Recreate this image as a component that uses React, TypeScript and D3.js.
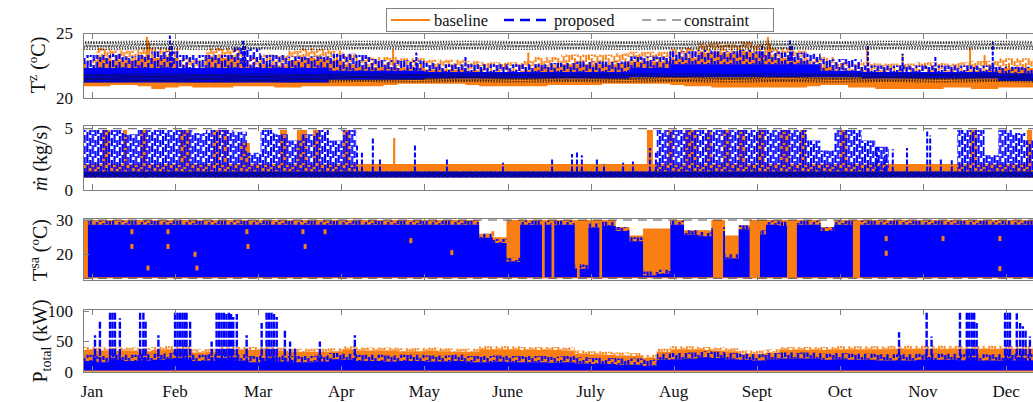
import React, { useEffect, useRef } from 'react';
import * as d3 from 'd3';

const W = 1033;
const H = 402;
const DAYS = 365;
const BIN = 5; // every envelope value below covers 5 days
const ORANGE = '#fa7f12';
const BLUE = '#0000ff';
const AXIS = '#808080';
const FONT = "'Liberation Serif', 'Times New Roman', serif";

const monthLabels = ['Jan', 'Feb', 'Mar', 'Apr', 'May', 'June', 'July', 'Aug', 'Sept', 'Oct', 'Nov', 'Dec'];
const monthTickDays = monthLabels.map((_, i) => 3.3 + (i * DAYS) / 12);

// ---- zone temperature T^z (°C), 5-day envelopes ----
const tzBaseLo = [
  20.9, 20.9, 21.0, 21.0, 20.9, 20.7, 20.8, 20.9, 20.8, 20.8,
  20.8, 20.9, 20.9, 20.9, 20.8, 20.8, 20.9, 20.9, 20.9, 20.9,
  20.9, 20.9, 21.0, 21.1, 21.1, 21.1, 21.1, 21.1, 21.0, 20.9,
  20.9, 20.9, 20.9, 20.9, 21.0, 21.0, 21.0, 21.0, 21.1, 21.1,
  21.1, 21.1, 21.1, 21.0, 20.9, 20.9, 20.8, 20.8, 20.8, 20.8,
  20.8, 20.8, 20.8, 20.9, 21.0, 21.0, 20.8, 20.8, 20.7, 20.7,
  20.7, 20.7, 20.7, 20.8, 20.8, 20.7, 20.7, 20.8, 20.8, 20.8,
  20.8, 20.8, 20.8,
];
const tzBaseHi = [
  22.7, 23.6, 23.4, 23.4, 23.6, 23.6, 23.6, 22.8, 22.7, 23.6,
  23.6, 23.5, 22.9, 23.1, 23.0, 23.4, 23.6, 23.5, 23.4, 23.1,
  22.9, 22.9, 22.9, 22.8, 22.8, 22.7, 22.7, 22.7, 22.6, 22.5,
  22.5, 22.5, 22.6, 22.9, 22.9, 23.1, 23.1, 23.1, 23.1, 23.2,
  23.3, 23.3, 23.3, 23.5, 23.6, 24.0, 24.0, 23.9, 24.1, 23.9,
  23.6, 23.6, 23.4, 22.8, 22.9, 22.5, 22.4, 22.5, 22.4, 22.4,
  22.4, 22.5, 22.5, 22.4, 22.5, 22.6, 22.6, 22.8, 22.8, 22.8,
  22.8, 22.8, 22.8,
];
const tzPropLo = [
  21.2, 21.2, 21.2, 21.2, 21.2, 21.2, 21.2, 21.2, 21.2, 21.2,
  21.2, 21.2, 21.2, 21.2, 21.2, 21.2, 21.2, 21.2, 21.4, 21.4,
  21.4, 21.4, 21.4, 21.4, 21.4, 21.5, 21.5, 21.5, 21.5, 21.5,
  21.5, 21.5, 21.5, 21.5, 21.5, 21.5, 21.5, 21.5, 21.5, 21.5,
  21.6, 21.6, 21.6, 21.6, 21.6, 21.6, 21.6, 21.6, 21.6, 21.6,
  21.6, 21.6, 21.6, 21.6, 21.6, 21.6, 21.6, 21.5, 21.5, 21.5,
  21.5, 21.5, 21.5, 21.5, 21.5, 21.5, 21.5, 21.3, 21.3, 21.3,
  21.3, 21.3, 21.3,
];
const tzPropCore = [
  22.3, 22.3, 22.3, 22.3, 22.3, 22.3, 22.3, 22.3, 22.3, 22.3,
  22.3, 22.3, 22.3, 22.3, 22.3, 22.3, 22.3, 22.3, 22.1, 22.1,
  22.1, 22.1, 22.1, 22.1, 22.1, 22.0, 22.0, 22.0, 22.0, 22.0,
  22.0, 22.0, 22.0, 22.0, 22.0, 22.0, 22.0, 22.0, 22.0, 22.0,
  22.3, 22.3, 22.3, 22.6, 22.6, 22.6, 22.6, 22.6, 22.6, 22.6,
  22.6, 22.6, 22.6, 22.6, 22.1, 22.1, 22.1, 22.0, 22.0, 22.0,
  22.0, 22.0, 22.0, 22.0, 22.0, 22.0, 22.0, 21.9, 21.9, 21.9,
  21.9, 21.9, 21.9,
];
const tzPropHi = [
  23.3, 23.3, 23.4, 23.2, 23.3, 23.6, 23.6, 23.3, 23.3, 23.3,
  23.3, 23.9, 23.8, 23.3, 23.3, 23.2, 23.2, 23.2, 23.4, 23.4,
  23.3, 23.0, 22.9, 22.9, 22.9, 22.7, 22.6, 22.6, 22.6, 22.6,
  22.6, 22.6, 22.6, 22.6, 22.7, 22.7, 22.8, 22.8, 22.8, 22.8,
  23.2, 23.2, 23.2, 23.6, 23.6, 23.7, 23.6, 23.6, 23.7, 23.6,
  23.6, 23.5, 23.5, 23.4, 23.0, 23.0, 23.0, 22.5, 22.5, 22.5,
  22.5, 22.5, 22.5, 22.5, 22.5, 22.5, 22.5, 22.4, 22.4, 22.4,
  22.4, 22.4, 22.4,
];
const tzBaseSpikes = [
  [23.4, 24.7], [24.2, 24.3], [113.5, 23.7], [163.0, 23.5], [250.7, 24.7],
  [251.5, 24.2], [287.0, 23.8], [300.0, 23.4], [324.7, 23.9], [330.0, 23.3],
];
const tzPropSpikes = [
  [31.8, 24.8], [32.6, 24.2], [58.6, 24.4], [59.4, 24.0], [122.0, 23.5], [140.0, 23.2],
  [215.0, 23.7], [248.5, 24.1], [258.8, 24.5], [259.6, 24.0], [287.3, 24.1], [300.0, 23.4],
  [312.0, 23.2], [333.0, 24.3],
];
const tzUpperProfile = [24.4, 23.7]; // daily constraint, unoccupied / occupied
const tzLowerProfile = [21.9, 21.2];

// ---- supply air flow (kg/s) ----
const mdotBaseBand = [1.0, 2.1];
const mdotPropBand = [1.0, 1.5];
const mdotPropHi = [
  4.85, 4.85, 4.85, 4.5, 4.85, 4.85, 4.85, 4.85, 4.6, 4.85,
  4.85, 4.7, 3.0, 4.85, 4.5, 4.0, 4.5, 4.85, 4.0, 4.85,
  1.5, 1.5, 1.5, 1.5, 1.5, 1.5, 1.5, 1.5, 1.5, 1.5,
  1.5, 1.5, 1.5, 1.5, 1.5, 1.5, 1.5, 1.5, 1.5, 1.5,
  1.5, 1.5, 4.85, 4.85, 4.85, 4.85, 4.85, 4.85, 4.85, 4.85,
  4.85, 4.85, 4.85, 4.0, 3.2, 4.85, 4.85, 4.0, 3.5, 1.5,
  1.5, 1.5, 1.5, 1.5, 4.85, 4.85, 2.8, 4.85, 4.6, 4.0,
  4.0, 4.0, 4.0,
];
const mdotPropSpikes = [
  [100.3, 3.6], [102.1, 3.0], [106.1, 4.2], [108.7, 2.6], [121.5, 3.7], [133.2, 2.6],
  [153.7, 2.2], [171.7, 2.5], [179.0, 2.9], [180.8, 3.1], [182.6, 2.8], [188.1, 2.6],
  [190.7, 2.1], [197.7, 2.2], [201.3, 2.3], [207.5, 3.4], [209.7, 3.0], [290.6, 3.5],
  [293.5, 2.8], [296.4, 3.3], [301.6, 3.4], [309.0, 4.85], [310.1, 4.4], [314.0, 2.6],
  [318.0, 2.4],
];
const mdotBaseBlocks = [
  [7.0, 9.9, 4.85], [14.6, 16.1, 4.85], [20.9, 23.4, 4.85], [35.5, 39.2, 4.85],
  [47.6, 50.1, 4.85], [51.2, 52.7, 4.85], [57.5, 61.1, 3.8], [72.1, 74.7, 4.85],
  [78.3, 82.0, 4.85], [84.2, 86.8, 4.85], [95.2, 97.7, 4.85], [113.5, 114.3, 4.2],
  [206.4, 208.6, 4.85], [214.1, 216.0, 4.85], [220.3, 224.7, 4.85], [228.4, 230.2, 4.85],
  [234.3, 236.8, 4.85], [239.7, 242.3, 4.85], [246.7, 249.6, 4.85], [255.1, 258.8, 4.85],
  [262.4, 264.6, 4.85], [277.1, 279.6, 4.85], [324.7, 327.2, 4.85], [345.5, 347.4, 4.85],
];
const mdotMax = 4.95;
const mdotMinProfile = [1.5, 1.0];

// ---- supply air temperature T^sa (°C) ----
const tsaBaseLo = 13.0;
const tsaPropLo = 13.3;
const tsaBaseHi = [
  30, 30, 30, 30, 30, 30, 30, 30, 30, 30,
  30, 30, 30, 30, 30, 30, 30, 30, 30, 30,
  30, 30, 30, 30, 30, 30, 30, 30, 30, 26.0,
  25.0, 30, 30, 30, 30, 30, 30, 30, 30, 28.0,
  25.5, 27.5, 27.5, 30, 27.0, 27.0, 30, 25.5, 28.5, 30,
  30, 30, 30, 30, 28.0, 30, 30, 30, 30, 30,
  30, 30, 30, 30, 30, 30, 30, 30, 30, 30,
  30, 30, 30,
];
const tsaPropHi = [
  29.8, 29.8, 29.8, 29.8, 29.8, 29.8, 29.8, 29.8, 29.8, 29.8,
  29.8, 29.8, 29.8, 29.8, 29.8, 29.8, 29.8, 29.8, 29.8, 29.8,
  29.8, 29.8, 29.8, 29.8, 29.8, 29.8, 29.8, 29.8, 29.8, 26.0,
  24.5, 19.0, 29.8, 29.8, 29.8, 29.8, 17.0, 29.0, 29.5, 28.0,
  25.0, 15.0, 15.5, 29.8, 27.0, 26.5, 28.0, 20.0, 28.5, 27.0,
  29.8, 29.5, 29.8, 29.8, 28.0, 29.8, 29.8, 29.8, 29.8, 29.8,
  29.8, 29.8, 29.8, 29.8, 29.8, 29.8, 29.8, 29.8, 29.8, 29.8,
  29.8, 29.8, 29.8,
];
const tsaBaseColumns = [
  [0, 1.8], [168.0, 169.0], [171.5, 172.5], [180.8, 181.8], [189.0, 190.0],
  [230.6, 234.3], [244.0, 247.8], [257.7, 261.3], [281.8, 284.4],
];
const tsaBaseSpecks = [
  [17.9, 26.6], [17.9, 22.3], [23.8, 16.0], [31.1, 26.6], [31.1, 22.3], [41.0, 20.0],
  [41.7, 16.0], [60.0, 26.6], [60.4, 22.3], [80.5, 26.6], [81.3, 22.3], [88.6, 26.6],
  [120.0, 24.0], [135.0, 20.5], [150.0, 26.0], [294.0, 24.6], [294.0, 20.3],
  [314.8, 24.6], [335.6, 24.6], [335.6, 15.8],
];
const tsaLimits = [13, 30];

// ---- total power P_total (kW) ----
const pBaseLo = 0.3;
const pPropLo = 2.5;
const pBaseHi = [
  39, 38, 38, 38, 37, 39, 40, 41, 35, 36,
  39, 39, 39, 39, 38, 36, 36, 36, 37, 40,
  38, 38, 38, 37, 37, 38, 37, 36, 36, 40,
  40, 40, 39, 39, 39, 38, 33, 32, 31, 30,
  29, 26, 36, 40, 40, 39, 38, 37, 33, 33,
  35, 39, 39, 39, 39, 40, 40, 40, 40, 41,
  41, 41, 41, 41, 41, 41, 41, 41, 41, 41,
  41, 41, 41,
];
const pPropHi = [
  24, 22, 26, 24, 25, 26, 28, 27, 24, 25,
  26, 25, 22, 24, 23, 22, 22, 23, 27, 26,
  24, 24, 23, 24, 24, 23, 23, 24, 22, 22,
  23, 22, 22, 22, 21, 22, 20, 19, 19, 18,
  18, 16, 26, 27, 28, 30, 29, 27, 26, 25,
  27, 28, 28, 28, 26, 27, 26, 26, 25, 25,
  25, 26, 26, 26, 25, 25, 25, 25, 25, 25,
  25, 25, 25,
];
const pPropSpikes = [
  [4.4, 60], [6.2, 85], [9.9, 98], [10.8, 100], [11.7, 98], [13.5, 88], [20.9, 100],
  [22.1, 100], [22.9, 85], [27.6, 60], [33.7, 100], [34.6, 100], [35.5, 100], [36.4, 100],
  [37.2, 100], [37.9, 100], [39.2, 85], [47.1, 50], [48.9, 100], [49.8, 100], [50.7, 100],
  [51.6, 100], [52.5, 95], [53.4, 100], [54.2, 95], [55.0, 90], [56.3, 95], [59.9, 60],
  [65.4, 80], [67.2, 100], [68.1, 100], [69.0, 100], [69.9, 95], [70.9, 90], [73.9, 68],
  [75.8, 50], [77.6, 40], [86.7, 50], [99.5, 60],
  [298.7, 65], [308.8, 99], [310.6, 58], [321.0, 99], [323.5, 100], [324.4, 100],
  [325.3, 100], [326.2, 98], [327.1, 80], [337.5, 100], [338.4, 100], [339.3, 100],
  [341.8, 96], [343.0, 80], [344.0, 75], [345.0, 69], [346.6, 58],
];

const layout = [
  { top: 33, bottom: 98, domain: [20, 25], ticks: [20, 25] },
  { top: 125, bottom: 190, domain: [0, 5.25], ticks: [0, 5] },
  { top: 218, bottom: 280, domain: [12.5, 30.6], ticks: [20, 30] },
  { top: 309, bottom: 372, domain: [0, 103], ticks: [0, 50, 100] },
];

type Pt = { d: number; lo: number; hi: number };
type Val = number[] | number;

const pick = (v: Val, i: number) => (Array.isArray(v) ? v[i] : v);
const shift = (v: Val, by: number): Val => (Array.isArray(v) ? v.map(h => h + by) : v + by);

function envelope(lo: Val, hi: Val, n = 73): Pt[] {
  const pts = d3.range(n).map(i => ({ d: i * BIN, lo: pick(lo, i), hi: pick(hi, i) }));
  pts.push({ ...pts[pts.length - 1], d: DAYS });
  return pts;
}

export default function App() {
  const plotRef = useRef<SVGGElement>(null);

  useEffect(() => {
    const root = d3.select(plotRef.current);
    root.selectAll('*').remove();

    const x = d3.scaleLinear().domain([0, DAYS]).range([83, 83 + DAYS * 2.732]);
    const defs = root.append('defs');

    // dense signals are drawn as mottled vertical dashes
    const mottle = (id: string, color: string, step: number, fill: number, offs: number[], lens: number[], period: number) => {
      const p = defs
        .append('pattern')
        .attr('id', id)
        .attr('patternUnits', 'userSpaceOnUse')
        .attr('width', offs.length * step)
        .attr('height', period);
      offs.forEach((o, i) => {
        [o, o - period].forEach(yy =>
          p.append('rect')
            .attr('x', i * step)
            .attr('y', yy)
            .attr('width', step * fill)
            .attr('height', lens[i])
            .attr('fill', color)
        );
      });
    };
    mottle('blue-mottle', BLUE, 3.2, 0.7, [0, 5, 2, 7, 3, 8, 1], [7, 6, 7, 5, 7, 6, 7], 10);
    mottle('blue-dense', BLUE, 2.7, 0.8, [0, 6, 2, 8, 4, 1, 7, 3], [9, 8, 9, 7, 9, 8, 9, 8], 11);
    mottle('orange-mottle', ORANGE, 2.8, 0.7, [0, 4, 7, 2, 6, 1], [6, 7, 5, 7, 6, 7], 9);

    const panels = layout.map((p, i) => {
      const y = d3.scaleLinear().domain(p.domain).range([p.bottom, p.top]);
      defs
        .append('clipPath')
        .attr('id', `clip${i}`)
        .append('rect')
        .attr('x', 83)
        .attr('y', p.top)
        .attr('width', x(DAYS) - 83)
        .attr('height', p.bottom - p.top);
      const g = root.append('g').attr('clip-path', `url(#clip${i})`);
      return { ...p, y, g };
    });

    const band = (g, y, pts: Pt[], fill: string) =>
      g
        .append('path')
        .datum(pts)
        .attr('fill', fill)
        .attr(
          'd',
          d3
            .area<Pt>()
            .x(d => x(d.d))
            .y0(d => y(d.lo))
            .y1(d => y(d.hi))
            .curve(d3.curveStepAfter)
        );

    // solid body with a ragged (mottled) top edge
    const fuzzyBand = (g, y, lo: Val, hi: Val, color: string, pat: string, below: number, above: number) => {
      band(g, y, envelope(lo, shift(hi, -below)), color);
      band(g, y, envelope(shift(hi, -below), shift(hi, above)), `url(#${pat})`);
    };

    const blocks = (g, y, data: number[][], lo: number, top: number | null, fill: string) =>
      g
        .selectAll(null)
        .data(data)
        .enter()
        .append('rect')
        .attr('x', d => x(d[0]))
        .attr('width', d => Math.max(1.5, x(d[1]) - x(d[0])))
        .attr('y', d => y(top ?? d[2]))
        .attr('height', d => y(lo) - y(top ?? d[2]))
        .attr('fill', fill);

    const spikes = (g, y, data: number[][], base: number, color: string, w: number, dash: string | null) =>
      g
        .selectAll(null)
        .data(data)
        .enter()
        .append('line')
        .attr('x1', d => x(d[0]))
        .attr('x2', d => x(d[0]))
        .attr('y1', y(base))
        .attr('y2', d => y(d[1]))
        .attr('stroke', color)
        .attr('stroke-width', w)
        .attr('stroke-dasharray', dash);

    const zigzag = (g, y, profile: number[]) => {
      const pts = d3.range(DAYS).flatMap(k => [
        [k, profile[0]],
        [k + 0.5, profile[1]],
      ]);
      g.append('path')
        .datum(pts)
        .attr('fill', 'none')
        .attr('stroke', '#111')
        .attr('stroke-width', 0.8)
        .attr('stroke-dasharray', '2.5,1.2')
        .attr('d', d3.line<number[]>().x(d => x(d[0])).y(d => y(d[1])));
    };

    const hline = (g, y, v: number) =>
      g
        .append('line')
        .attr('x1', x(0))
        .attr('x2', x(DAYS))
        .attr('y1', y(v))
        .attr('y2', y(v))
        .attr('stroke', '#444')
        .attr('stroke-width', 0.9)
        .attr('stroke-dasharray', '9,6');

    // T^z
    {
      const { g, y } = panels[0];
      fuzzyBand(g, y, tzBaseLo, tzBaseHi, ORANGE, 'orange-mottle', 0.5, 0.25);
      spikes(g, y, tzBaseSpikes, 22.5, ORANGE, 2, null);
      band(g, y, envelope(tzPropLo, tzPropCore), BLUE);
      band(g, y, envelope(tzPropCore, tzPropHi), 'url(#blue-mottle)');
      spikes(g, y, tzPropSpikes, 22.0, BLUE, 2, '4,1.5');
      zigzag(g, y, tzUpperProfile);
      zigzag(g, y, tzLowerProfile);
    }
    // mdot
    {
      const { g, y } = panels[1];
      band(g, y, envelope(mdotBaseBand[0], mdotBaseBand[1]), ORANGE);
      blocks(g, y, mdotBaseBlocks, mdotBaseBand[0], null, ORANGE);
      band(g, y, envelope(mdotPropBand[0], mdotPropBand[1]), BLUE);
      band(g, y, envelope(mdotPropBand[1], mdotPropHi), 'url(#blue-dense)');
      spikes(g, y, mdotPropSpikes, mdotPropBand[1], BLUE, 2, '5,2');
      hline(g, y, mdotMax);
      zigzag(g, y, mdotMinProfile);
    }
    // T^sa
    {
      const { g, y } = panels[2];
      band(g, y, envelope(tsaBaseLo, tsaBaseHi), ORANGE);
      fuzzyBand(g, y, tsaPropLo, tsaPropHi, BLUE, 'blue-mottle', 1.2, 0);
      blocks(g, y, tsaBaseColumns, tsaLimits[0], tsaLimits[1], ORANGE);
      g.selectAll(null)
        .data(tsaBaseSpecks)
        .enter()
        .append('rect')
        .attr('x', d => x(d[0]) - 1.5)
        .attr('y', d => y(d[1]) - 2.5)
        .attr('width', 3)
        .attr('height', 5)
        .attr('fill', ORANGE);
      tsaLimits.forEach(v => hline(g, y, v));
    }
    // P_total
    {
      const { g, y } = panels[3];
      fuzzyBand(g, y, pBaseLo, pBaseHi, ORANGE, 'orange-mottle', 3, 2);
      fuzzyBand(g, y, pPropLo, pPropHi, BLUE, 'blue-mottle', 6, 4);
      spikes(g, y, pPropSpikes, 12, BLUE, 2.4, '7,2');
    }

    // axes boxes, ticks, tick labels
    panels.forEach(p => {
      const a = root.append('g');
      a.append('rect')
        .attr('x', 83.5)
        .attr('y', p.top + 0.5)
        .attr('width', x(DAYS) - 83)
        .attr('height', p.bottom - p.top)
        .attr('fill', 'none')
        .attr('stroke', AXIS)
        .attr('stroke-width', 1);
      monthTickDays.forEach(d => {
        const xx = Math.round(x(d)) + 0.5;
        a.append('line').attr('x1', xx).attr('x2', xx).attr('y1', p.bottom).attr('y2', p.bottom - 6).attr('stroke', AXIS);
        a.append('line').attr('x1', xx).attr('x2', xx).attr('y1', p.top).attr('y2', p.top + 6).attr('stroke', AXIS);
      });
      p.ticks.forEach(t => {
        const yy = Math.round(p.y(t)) + 0.5;
        a.append('line').attr('x1', 83).attr('x2', 89).attr('y1', yy).attr('y2', yy).attr('stroke', AXIS);
        a.append('text')
          .attr('x', 73)
          .attr('y', p.y(t))
          .attr('dy', '0.35em')
          .attr('text-anchor', 'end')
          .attr('font-family', FONT)
          .attr('font-size', 17)
          .attr('fill', '#111')
          .text(t);
      });
    });

    root.append('g')
      .selectAll(null)
      .data(monthLabels)
      .enter()
      .append('text')
      .attr('x', (_, i) => x(monthTickDays[i]))
      .attr('y', 397)
      .attr('text-anchor', 'middle')
      .attr('font-family', FONT)
      .attr('font-size', 17)
      .attr('fill', '#111')
      .text(d => d);
  }, []);

  const titleProps = { fontFamily: FONT, fontSize: 20, fill: '#111', textAnchor: 'middle' as const };

  return (
    <svg
      width={W}
      height={H}
      viewBox={`0 0 ${W} ${H}`}
      style={{ position: 'absolute', left: 0, top: 0, background: '#fff' }}
    >
      <g ref={plotRef} />
      <text transform="translate(45,65) rotate(-90)" {...titleProps}>
        T<tspan dy={-8} fontSize={14}>z</tspan>
        <tspan dy={8}> (</tspan>
        <tspan dy={-8} fontSize={13}>o</tspan>
        <tspan dy={8}>C)</tspan>
      </text>
      <text transform="translate(47,158) rotate(-90)" {...titleProps}>
        <tspan fontStyle="italic">ṁ</tspan> (kg/s)
      </text>
      <text transform="translate(47,250) rotate(-90)" {...titleProps}>
        T<tspan dy={-8} fontSize={14}>sa</tspan>
        <tspan dy={8}> (</tspan>
        <tspan dy={-8} fontSize={13}>o</tspan>
        <tspan dy={8}>C)</tspan>
      </text>
      <text transform="translate(47,341) rotate(-90)" {...titleProps}>
        P<tspan dy={4} fontSize={14}>total</tspan>
        <tspan dy={-4}> (kW)</tspan>
      </text>

      <g fontFamily={FONT} fontSize={16.5} fill="#111">
        <rect x={386.5} y={8.5} width={387} height={23} fill="#fff" stroke={AXIS} />
        <line x1={391} x2={430} y1={20} y2={20} stroke={ORANGE} strokeWidth={2.2} />
        <text x={434} y={26}>baseline</text>
        <line x1={504} x2={552} y1={20} y2={20} stroke={BLUE} strokeWidth={2.4} strokeDasharray="10,6" />
        <text x={554} y={26}>proposed</text>
        <line x1={642} x2={682} y1={20} y2={20} stroke="#444" strokeWidth={1} strokeDasharray="9,6" />
        <text x={684} y={26}>constraint</text>
      </g>
    </svg>
  );
}
